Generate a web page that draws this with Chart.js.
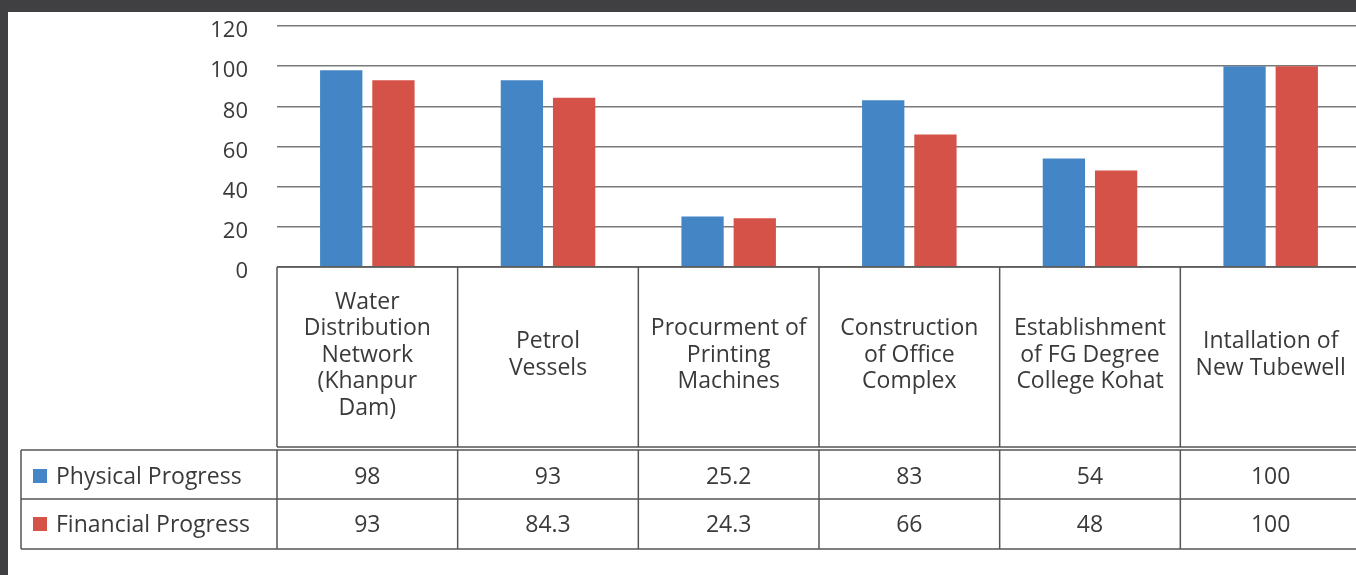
<!DOCTYPE html>
<html>
<head>
<meta charset="utf-8">
<script src="https://cdn.jsdelivr.net/npm/chart.js@4.4.1/dist/chart.umd.min.js"></script>
<style>
  html, body { margin: 0; padding: 0; overflow: hidden; background: #404042; width: 1356px; height: 575px; }
  #wrap { position: absolute; left: 8px; top: 12px; width: 1362px; height: 563px; background: #fff; }
</style>
</head>
<body>
<div id="wrap"><canvas id="progressChart" width="1362" height="563"></canvas></div>
<script>
// data
const projects = [
    ['Water', 'Distribution', 'Network', '(Khanpur', 'Dam)'],
    ['Petrol', 'Vessels'],
    ['Procurment of', 'Printing', 'Machines'],
    ['Construction', 'of Office', 'Complex'],
    ['Establishment', 'of FG Degree', 'College Kohat'],
    ['Intallation of', 'New Tubewell']
];
const physicalProgress = [98, 93, 25.2, 83, 54, 100];
const financialProgress = [93, 84.3, 24.3, 66, 48, 100];
const seriesNames = ['Physical Progress', 'Financial Progress'];
const yTicks = [0, 20, 40, 60, 80, 100, 120];

const BLUE = '#4486c5';
const RED = '#d45248';
const FONT = '"Open Sans", sans-serif';
const TEXT = '#3a3a3a';

// draws the category box and data table below the plot
const tablePlugin = {
    id: 'dataTable',
    afterDraw(chart) {
        const ctx = chart.ctx;
        const area = chart.chartArea;
        const x = chart.scales.x;
        const n = projects.length;
        const edges = [area.left];
        for (let i = 1; i <= n; i++) {
            edges.push(i < n ? (x.getPixelForValue(i - 1) + x.getPixelForValue(i)) / 2
                             : x.getPixelForValue(n - 1) + (x.getPixelForValue(n - 1) - x.getPixelForValue(n - 2)) / 2);
        }
        const boxTop = area.bottom, boxBottom = 435;
        const tTop = 438, tMid = 487, tBottom = 537, tLeft = 13;

        ctx.save();
        ctx.strokeStyle = '#555';
        ctx.lineWidth = 1.5;
        ctx.beginPath();
        // category box
        ctx.moveTo(area.left, boxTop); ctx.lineTo(chart.width, boxTop);
        ctx.moveTo(area.left, boxBottom); ctx.lineTo(chart.width, boxBottom);
        edges.forEach(e => { ctx.moveTo(e, boxTop); ctx.lineTo(e, boxBottom); });
        // value table
        [tTop, tMid, tBottom].forEach(y => { ctx.moveTo(tLeft, y); ctx.lineTo(chart.width, y); });
        [tLeft].concat(edges).forEach(e => { ctx.moveTo(e, tTop); ctx.lineTo(e, tBottom); });
        ctx.stroke();

        ctx.fillStyle = TEXT;
        ctx.font = '23px ' + FONT;
        ctx.textAlign = 'center';
        ctx.textBaseline = 'middle';
        const lh = 26.5;
        projects.forEach((lines, i) => {
            const cx = x.getPixelForValue(i);
            const y0 = 343 - (lines.length - 1) * lh / 2;
            lines.forEach((t, j) => ctx.fillText(t, cx, y0 + j * lh));
        });

        const rows = [physicalProgress, financialProgress];
        const colors = [BLUE, RED];
        const rowY = [465, 513];
        rows.forEach((vals, r) => {
            ctx.fillStyle = colors[r];
            ctx.fillRect(25, rowY[r] - 8, 14, 14);
            ctx.fillStyle = TEXT;
            ctx.textAlign = 'left';
            ctx.fillText(seriesNames[r], 48, rowY[r]);
            ctx.textAlign = 'center';
            vals.forEach((v, i) => ctx.fillText(String(v), x.getPixelForValue(i), rowY[r]));
        });
        ctx.restore();
    }
};

new Chart(document.getElementById('progressChart'), {
    type: 'bar',
    data: {
        labels: projects.map(p => p.join(' ')),
        datasets: [{
            label: seriesNames[0],
            data: physicalProgress,
            backgroundColor: BLUE
        }, {
            label: seriesNames[1],
            data: financialProgress,
            backgroundColor: RED
        }]
    },
    options: {
        responsive: false,
        animation: false,
        events: [],
        categoryPercentage: 0.578,
        barPercentage: 0.81,
        layout: { padding: { top: 14, right: 9, left: 0, bottom: 0 } },
        plugins: {
            legend: { display: false },
            tooltip: { enabled: false }
        },
        scales: {
            x: {
                grid: { display: false },
                border: { display: false },
                ticks: { display: false },
                afterFit: function(scale) { scale.height = 308; }
            },
            y: {
                min: 0,
                max: 120,
                afterBuildTicks: function(scale) { scale.ticks = yTicks.map(v => ({ value: v })); },
                grid: { color: '#7a7a7a', lineWidth: 1.5, drawTicks: false },
                border: { display: false },
                ticks: {
                    padding: 29,
                    labelOffset: 5,
                    color: TEXT,
                    font: { family: FONT, size: 22 }
                },
                afterFit: function(scale) {
                    scale.width = 269;
                    scale.paddingTop = 0;
                    scale.paddingBottom = 0;
                }
            }
        }
    },
    plugins: [tablePlugin]
});
</script>
</body>
</html>
